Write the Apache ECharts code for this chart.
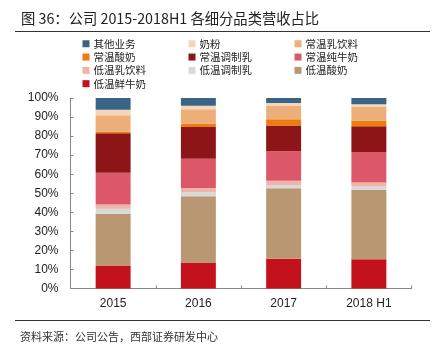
<!DOCTYPE html>
<html><head><meta charset="utf-8">
<script src="https://cdn.jsdelivr.net/npm/echarts@6/dist/echarts.min.js"></script>
<style>html,body{margin:0;padding:0;background:#fff}#c{width:436px;height:354px}</style>
</head><body><div id="c"></div>
<script>
const categories = ['2015', '2016', '2017', '2018 H1'];
const yTickLabels = ['0%','10%','20%','30%','40%','50%','60%','70%','80%','90%','100%'];
// series listed bottom → top of the stack
const s低温鲜牛奶 = [12.1, 13.7, 15.6, 15.4];
const s低温酸奶 = [27.2, 34.7, 37.0, 36.5];
const s低温调制乳 = [2.5, 2.3, 1.6, 1.6];
const s低温乳饮料 = [2.3, 2.1, 2.3, 2.1];
const s常温纯牛奶 = [16.7, 15.3, 15.6, 16.1];
const s常温调制乳 = [20.7, 16.7, 13.5, 13.5];
const s常温酸奶 = [0.9, 1.8, 3.2, 3.0];
const s常温乳饮料 = [8.6, 7.5, 7.2, 7.4];
const s奶粉 = [2.8, 1.8, 1.4, 1.1];
const s其他业务 = [6.3, 4.2, 2.6, 3.3];
const legendOrder = ['其他业务','奶粉','常温乳饮料','常温酸奶','常温调制乳','常温纯牛奶','低温乳饮料','低温调制乳','低温酸奶','低温鲜牛奶'];

const seriesDefs = [
  ['低温鲜牛奶', s低温鲜牛奶, '#C3111D'],
  ['低温酸奶', s低温酸奶, '#B89772'],
  ['低温调制乳', s低温调制乳, '#D9D9D9'],
  ['低温乳饮料', s低温乳饮料, '#EEB5AC'],
  ['常温纯牛奶', s常温纯牛奶, '#DC5869'],
  ['常温调制乳', s常温调制乳, '#8D1518'],
  ['常温酸奶', s常温酸奶, '#EE7B0E'],
  ['常温乳饮料', s常温乳饮料, '#EDAF79'],
  ['奶粉', s奶粉, '#F2D6BC'],
  ['其他业务', s其他业务, '#3B6384']
];
const font = '"Liberation Sans", Arial, sans-serif';
const cjk = '"Noto Sans CJK SC", sans-serif';
const legends = legendOrder.map((n, i) => ({
  data: [n], left: 82.5 + (i % 3) * 106, top: 38.5 + Math.floor(i / 3) * 13.3,
  itemWidth: 7, itemHeight: 7, itemGap: 4, padding: 0, icon: 'rect',
  textStyle: { fontSize: 10.5, color: '#222', fontFamily: cjk, padding: [0,0,0,-1] }
}));
const chart = echarts.init(document.getElementById('c'), null, { renderer: 'canvas' });
chart.setOption({
  animation: false,
  backgroundColor: '#fff',
  title: [
    { text: '图 36：公司 2015-2018H1 各细分品类营收占比', left: 16, top: 6,
      textStyle: { fontSize: 14.3, fontWeight: 'normal', color: '#222', fontFamily: cjk } },
    { text: '资料来源：公司公告，西部证券研发中心', left: 15, top: 326,
      textStyle: { fontSize: 11, fontWeight: 'normal', color: '#333', fontFamily: cjk } }
  ],
  graphic: [
    { type: 'line', shape: { x1: 15, y1: 31.5, x2: 430, y2: 31.5 }, style: { stroke: '#333', lineWidth: 1 } },
    { type: 'line', shape: { x1: 15, y1: 320.5, x2: 430, y2: 320.5 }, style: { stroke: '#333', lineWidth: 1 } }
  ],
  legend: legends,
  grid: { left: 70.5, right: 24.5, top: 98, bottom: 65.5, containLabel: false },
  xAxis: {
    type: 'category', data: categories,
    axisLine: { lineStyle: { color: '#888' } },
    axisTick: { show: true, inside: true, length: 3, lineStyle: { color: '#888' } },
    axisLabel: { fontSize: 12, color: '#222', fontFamily: font, margin: 9 }
  },
  yAxis: {
    type: 'value', min: 0, max: 100, interval: 10,
    axisLine: { show: true, lineStyle: { color: '#888' } },
    axisTick: { show: true, inside: true, length: 3, lineStyle: { color: '#888' } },
    splitLine: { show: false },
    axisLabel: { fontSize: 12, color: '#222', fontFamily: font, margin: 12,
      formatter: (v) => yTickLabels[Math.round(v / 10)] }
  },
  series: seriesDefs.map(([n, d, c]) => ({
    name: n, type: 'bar', stack: 'all', data: d, barWidth: '41%',
    itemStyle: { color: c }
  }))
});
</script></body></html>
